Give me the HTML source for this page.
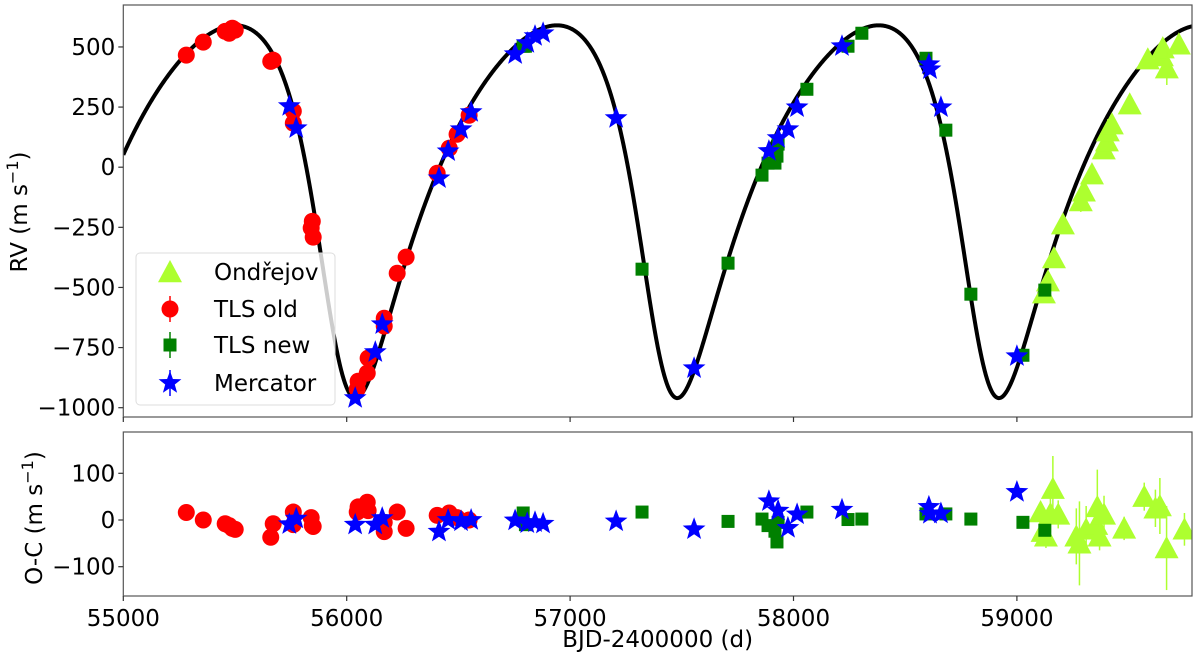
<!DOCTYPE html>
<html><head><meta charset="utf-8"><style>
html,body{margin:0;padding:0;background:#fff;}
svg{display:block;font-family:"DejaVu Sans","Liberation Sans",sans-serif;}
</style></head><body>
<svg id="chart" width="1200" height="659" viewBox="0 0 1200 659"></svg>
<script>
// Keplerian model parameters
const modelP = 1440, modelTp = 55965, modelE = 0.32, modelOmegaDeg = 143, modelK = 775, modelGamma = 13;

// Ondrejov
const ondT = [59121,59139,59166,59206,59286,59300,59336,59389,59403,59407,59425,59505,59586,59649,59653,59671,59725];
const ondRV = [-524,-474,-378,-237,-141,-100,-29,75,108,150,179,262,449,462,495,412,511];
const ondErr = [20,20,25,40,45,30,20,20,60,50,40,25,30,35,40,70,20];
const ondOcT = [59106,59115,59130,59161,59150,59185,59266,59280,59310,59355,59360,59390,59370,59480,59570,59620,59640,59670,59750];
const ondOcV = [17,-25,-35,67,13,12,-35,-50,-20,-10,28,12,-35,-18,50,25,30,-60,-20];
const ondOcErr = [20,30,25,70,40,30,60,90,50,40,80,40,30,25,30,40,60,90,35];

// TLS old
const oldT = [55282,55358,55456,55474,55488,55501,55660,55671,55761,55761,55841,55846,55850,56047,56051,56092,56096,56168,56168,56226,56266,56405,56459,56494,56548];
const oldRV = [466,520,565,557,578,570,440,445,233,183,-253,-225,-291,-923,-890,-856,-794,-628,-661,-441,-374,-25,79,137,216];
const oldOc = [16,0,-8,-12,-18,-20,-37,-8,17,-10,5,-12,-14,17,28,38,20,-5,-25,17,-18,10,15,5,0];

// TLS new
const newT = [56790,56800,57322,57707,57859,57886,57917,57926,57931,58060,58244,58306,58593,58682,58794,59027,59125];
const newRV = [503,503,-424,-399,-33,17,17,46,96,324,503,557,453,154,-528,-782,-511];
const newOc = [15,-10,17,-3,2,-12,-24,-47,-5,17,1,2,13,13,2,-5,-22];

// Mercator
const merT = [55743,55774,56038,56128,56159,56413,56454,56512,56557,56754,56808,56843,56879,57206,57555,57890,57931,57975,58016,58217,58606,58611,58660,59000];
const merRV = [254,162,-960,-769,-653,-46,66,158,229,470,516,545,557,204,-836,67,121,158,249,503,428,407,249,-786];
const merOc = [-9,3,-10,-10,4,-25,0,-3,0,-1,-7,-5,-8,-3,-20,40,20,-17,12,22,28,13,14,60];

const xTicks = [55000,56000,57000,58000,59000];
const yTicksTop = [500,250,0,-250,-500,-750,-1000];
const yTicksBot = [100,0,-100];

const X0=123.3, X1=1192;
const xs = t => X0 + (t-55000)*0.2234;
const tMax = 55000 + (X1-X0)/0.2234;
const TT=5, TB=417;
const ys = v => 167.2 - v*0.2405;
const BT=432, BB=596;
const yb = v => 520 - v*0.467;

const NS="http://www.w3.org/2000/svg";
const svg=document.getElementById('chart');
function mk(tag, attrs, parent){const e=document.createElementNS(NS,tag);for(const k in attrs)e.setAttribute(k,attrs[k]);(parent||svg).appendChild(e);return e;}
function fmt(v){return v<0?'\u2212'+Math.abs(v):String(v);}

function rvModel(t){
  const M=2*Math.PI*(t-modelTp)/modelP;
  let E=M;
  for(let i=0;i<40;i++){E=E-(E-modelE*Math.sin(E)-M)/(1-modelE*Math.cos(E));}
  const nu=2*Math.atan2(Math.sqrt(1+modelE)*Math.sin(E/2),Math.sqrt(1-modelE)*Math.cos(E/2));
  const w=modelOmegaDeg*Math.PI/180;
  return modelGamma+modelK*(Math.cos(nu+w)+modelE*Math.cos(w));
}

const defs=mk('defs',{});
const c1=mk('clipPath',{id:'ct'},defs); mk('rect',{x:X0,y:TT,width:X1-X0,height:TB-TT},c1);
const c2=mk('clipPath',{id:'cb'},defs); mk('rect',{x:X0,y:BT,width:X1-X0,height:BB-BT},c2);

const gTop=mk('g',{'clip-path':'url(#ct)'});


const gBot=mk('g',{'clip-path':'url(#cb)'});



let d='';
for(let t=55000;t<=tMax+2;t+=2){d+=(d?'L':'M')+xs(t).toFixed(2)+','+ys(rvModel(t)).toFixed(2);}
const curve=mk('path',{d:d,fill:'none',stroke:'#000','stroke-width':4},gTop);



function tri(g,x,y,col,name){const s=12;const p=mk('polygon',{points:`${x},${y-s} ${x-s},${y+s*0.85} ${x+s},${y+s*0.85}`,fill:col},g);}
function circ(g,x,y,col,name){const c=mk('circle',{cx:x,cy:y,r:8.5,fill:col},g);}
function sq(g,x,y,col,name){const r=mk('rect',{x:x-6.5,y:y-6.5,width:13,height:13,fill:col},g);}
function star(g,x,y,col,name){let pts=[];for(let i=0;i<10;i++){const a=-Math.PI/2+i*Math.PI/5;const r=i%2?5:12;pts.push((x+r*Math.cos(a)).toFixed(1)+','+(y+r*Math.sin(a)).toFixed(1));}const p=mk('polygon',{points:pts.join(' '),fill:col},g);}
function ebar(g,x,y1,y2,col){const l=mk('line',{x1:x,x2:x,y1:y1,y2:y2,stroke:col,'stroke-width':1.5},g);}

ondT.forEach((t,i)=>{ebar(gTop,xs(t),ys(ondRV[i]+ondErr[i]),ys(ondRV[i]-ondErr[i]),'#adff2f');tri(gTop,xs(t),ys(ondRV[i]),'#adff2f','ondrejov-point');});
oldT.forEach((t,i)=>circ(gTop,xs(t),ys(oldRV[i]),'#ff0000','tls-old-point'));
newT.forEach((t,i)=>sq(gTop,xs(t),ys(newRV[i]),'#008000','tls-new-point'));
merT.forEach((t,i)=>star(gTop,xs(t),ys(merRV[i]),'#0000ff','mercator-point'));

ondOcT.forEach((t,i)=>{ebar(gBot,xs(t),yb(ondOcV[i]+ondOcErr[i]),yb(ondOcV[i]-ondOcErr[i]),'#adff2f');tri(gBot,xs(t),yb(ondOcV[i]),'#adff2f','ondrejov-residual');});
oldT.forEach((t,i)=>circ(gBot,xs(t),yb(oldOc[i]),'#ff0000','tls-old-residual'));
newT.forEach((t,i)=>sq(gBot,xs(t),yb(newOc[i]),'#008000','tls-new-residual'));
merT.forEach((t,i)=>star(gBot,xs(t),yb(merOc[i]),'#0000ff','mercator-residual'));

const f1=mk('rect',{x:X0,y:TT,width:X1-X0,height:TB-TT,fill:'none',stroke:'#555','stroke-width':1.2});

const f2=mk('rect',{x:X0,y:BT,width:X1-X0,height:BB-BT,fill:'none',stroke:'#555','stroke-width':1.2});


xTicks.forEach(t=>{
  const x=xs(t);
  const a=mk('line',{x1:x,x2:x,y1:TB,y2:TB+5,stroke:'#333','stroke-width':1.2});
  const b=mk('line',{x1:x,x2:x,y1:BB,y2:BB+5,stroke:'#333','stroke-width':1.2});
  const tx=mk('text',{x:x,y:BB+30,'text-anchor':'middle','font-size':23,fill:'#000'});tx.textContent=t;
  
});
yTicksTop.forEach(v=>{
  const y=ys(v);
  const a=mk('line',{x1:X0-5,x2:X0,y1:y,y2:y,stroke:'#333','stroke-width':1.2});
  const tx=mk('text',{x:X0-8,y:y+8,'text-anchor':'end','font-size':23,fill:'#000'});tx.textContent=fmt(v);
  
});
yTicksBot.forEach(v=>{
  const y=yb(v);
  const a=mk('line',{x1:X0-5,x2:X0,y1:y,y2:y,stroke:'#333','stroke-width':1.2});
  const tx=mk('text',{x:X0-8,y:y+8,'text-anchor':'end','font-size':23,fill:'#000'});tx.textContent=fmt(v);
  
});

const xl=mk('text',{x:(X0+X1)/2,y:647,'text-anchor':'middle','font-size':23});xl.textContent='BJD-2400000 (d)';

const yl1=mk('text',{x:0,y:0,'text-anchor':'middle','font-size':23,transform:'translate(27,212) rotate(-90)'});
yl1.innerHTML='RV (m s<tspan dy="-9" font-size="16">\u22121</tspan><tspan dy="9">)</tspan>';

const yl2=mk('text',{x:0,y:0,'text-anchor':'middle','font-size':23,transform:'translate(42,518) rotate(-90)'});
yl2.innerHTML='O-C (m s<tspan dy="-9" font-size="16">\u22121</tspan><tspan dy="9">)</tspan>';


const lg=mk('g',{});

mk('rect',{x:136,y:253,width:199,height:152,rx:4,fill:'#fff','fill-opacity':0.8,stroke:'#ddd'},lg);
const labels=['Ondřejov','TLS old','TLS new','Mercator'];
const ly=[272,309,345,383];
labels.forEach((s,i)=>{
  const g=mk('g',{},lg);
  
  if(i===0)tri(g,170,ly[i],'#adff2f','legend-marker');
  if(i===1){ebar(g,170,ly[i]-13,ly[i]+13,'#ff0000');circ(g,170,ly[i],'#ff0000','legend-marker');}
  if(i===2){ebar(g,170,ly[i]-13,ly[i]+13,'#008000');sq(g,170,ly[i],'#008000','legend-marker');}
  if(i===3){ebar(g,170,ly[i]-13,ly[i]+13,'#0000ff');star(g,170,ly[i],'#0000ff','legend-marker');}
  const t=mk('text',{x:214,y:ly[i]+8,'font-size':23},g);t.textContent=s;
  
});
</script>
</body></html>
